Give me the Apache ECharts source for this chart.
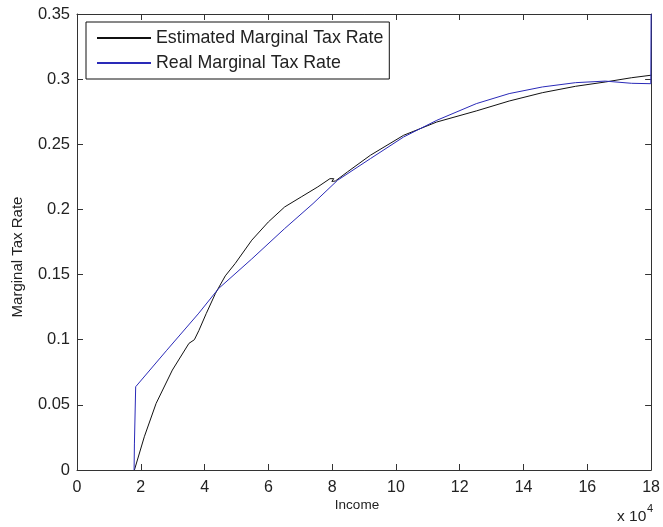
<!DOCTYPE html>
<html>
<head>
<meta charset="utf-8">
<script src="https://cdn.jsdelivr.net/npm/echarts@6/dist/echarts.min.js"></script>
<style>
  html, body { margin: 0; padding: 0; background: #fff; }
  #chart { width: 663px; height: 527px; }
</style>
</head>
<body>
<div id="chart"></div>
<script>
// Income in units of 10^4
const estIncome = [1.80, 1.83, 2.11, 2.48, 2.99, 3.51, 3.68, 3.82, 4.05, 4.34, 4.65, 4.96, 5.48, 6.00, 6.51, 7.03, 7.55, 7.93, 8.05, 7.99, 8.10, 8.48, 9.20, 10.24, 11.28, 12.52, 13.55, 14.59, 15.63, 16.56, 17.39, 18.00];
const estRate   = [0.000, 0.000, 0.0255, 0.0511, 0.0767, 0.0972, 0.1000, 0.1070, 0.1200, 0.1355, 0.1490, 0.1585, 0.1764, 0.1904, 0.2019, 0.2096, 0.2173, 0.2236, 0.2236, 0.2215, 0.2218, 0.2288, 0.2416, 0.2569, 0.2671, 0.2756, 0.2832, 0.2896, 0.2945, 0.2978, 0.3011, 0.3030];

const realIncome = [1.79, 1.80, 1.84, 2.80, 3.82, 4.44, 5.48, 6.51, 7.40, 8.17, 9.20, 10.24, 11.28, 12.52, 13.55, 14.59, 15.63, 16.56, 17.39, 17.99, 18.00];
const realRate   = [0.000, 0.020, 0.0639, 0.0915, 0.1204, 0.1393, 0.1620, 0.1853, 0.2045, 0.2224, 0.2390, 0.2556, 0.2684, 0.2812, 0.2889, 0.2940, 0.2973, 0.2985, 0.2968, 0.2965, 0.3500];

const xTicks = { min: 0, max: 18, interval: 2 };
const yTicks = { min: 0, max: 0.35, interval: 0.05 };

const seriesNames = ['Estimated Marginal Tax Rate', 'Real Marginal Tax Rate'];
const xLabel = 'Income';
const yLabel = 'Marginal Tax Rate';

const FONT = '"Liberation Sans", Arial, Helvetica, sans-serif';
const AXIS_COLOR = '#333';
const TEXT_COLOR = '#222';

function zip(xs, ys) { return xs.map((x, i) => [x, ys[i]]); }

const chart = echarts.init(document.getElementById('chart'), null, { renderer: 'canvas' });

const axisCommon = {
  type: 'value',
  splitLine: { show: false },
  axisLine: { show: true, onZero: false, lineStyle: { color: AXIS_COLOR, width: 1 } },
  axisTick: { show: true, inside: true, length: 6, lineStyle: { color: AXIS_COLOR, width: 1 } }
};

chart.setOption({
  backgroundColor: '#fff',
  animation: false,
  grid: { left: 77, right: 7, top: 14, bottom: 57, containLabel: false },
  legend: {
    orient: 'vertical',
    left: 86,
    top: 22,
    padding: [7, 6, 7, 10],
    itemGap: 7,
    itemWidth: 54,
    itemHeight: 14,
    borderColor: '#111',
    borderWidth: 1,
    backgroundColor: '#fff',
    itemStyle: { opacity: 0 },
    textStyle: { fontFamily: FONT, fontSize: 17.8, color: TEXT_COLOR },
    data: seriesNames
  },
  xAxis: [
    Object.assign({}, axisCommon, xTicks, {
      position: 'bottom',
      axisLabel: { show: true, margin: 10, fontFamily: FONT, fontSize: 16, color: TEXT_COLOR }
    }),
    Object.assign({}, axisCommon, xTicks, {
      position: 'top',
      axisLabel: { show: false }
    })
  ],
  yAxis: [
    Object.assign({}, axisCommon, yTicks, {
      position: 'left',
      axisLabel: {
        show: true, margin: 7, fontFamily: FONT, fontSize: 16.5, color: TEXT_COLOR,
        formatter: v => String(+v.toFixed(2))
      }
    }),
    Object.assign({}, axisCommon, yTicks, {
      position: 'right',
      axisLabel: { show: false }
    })
  ],
  graphic: [
    {
      type: 'text', x: 357, y: 505,
      style: { text: xLabel, font: '13.5px ' + FONT, fill: TEXT_COLOR, align: 'center', verticalAlign: 'middle' }
    },
    {
      type: 'text', x: 18, y: 257, rotation: Math.PI / 2,
      style: { text: yLabel, font: '15px ' + FONT, fill: TEXT_COLOR, align: 'center', verticalAlign: 'middle' }
    },
    {
      type: 'text', left: 617, top: 509,
      style: { text: 'x 10', font: '15.5px ' + FONT, fill: TEXT_COLOR }
    },
    {
      type: 'text', left: 647, top: 503,
      style: { text: '4', font: '11px ' + FONT, fill: TEXT_COLOR }
    }
  ],
  series: [
    {
      name: seriesNames[0],
      type: 'line',
      data: zip(estIncome, estRate),
      symbol: 'none',
      lineStyle: { color: '#111', width: 1 },
      itemStyle: { color: '#111' }
    },
    {
      name: seriesNames[1],
      type: 'line',
      data: zip(realIncome, realRate),
      symbol: 'none',
      lineStyle: { color: '#2a2ab8', width: 1 },
      itemStyle: { color: '#2a2ab8' }
    }
  ]
});
</script>
</body>
</html>
